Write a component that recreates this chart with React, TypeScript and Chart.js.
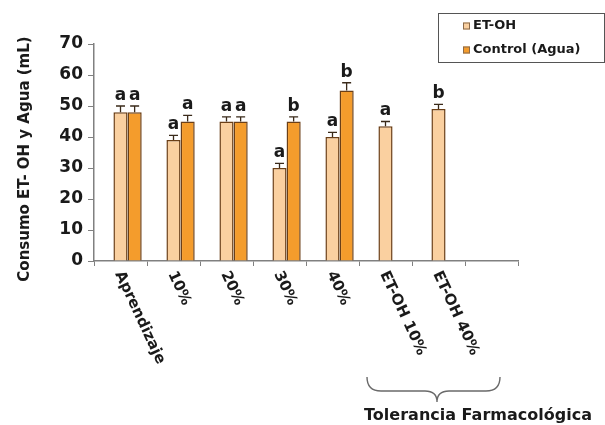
import React, { useEffect, useRef } from "react";
import { Chart, registerables } from "chart.js";

Chart.register(...registerables);

const categories = ["Aprendizaje", "10%", "20%", "30%", "40%", "ET-OH 10%", "ET-OH 40%", ""];
const etohValues = [48, 39, 45, 30, 40, 43.5, 49, null];
const controlValues = [48, 45, 45, 45, 55, null, null, null];
const etohErrors = [2, 1.5, 1.5, 1.5, 1.5, 1.5, 1.5, null];
const controlErrors = [2, 2, 1.5, 1.5, 2.5, null, null, null];
const etohLetters = ["a", "a", "a", "a", "a", "a", "b", null];
const controlLetters = ["a", "a", "a", "b", "b", null, null, null];
const yTicks = [0, 10, 20, 30, 40, 50, 60, 70];
const yTitle = "Consumo ET- OH y Agua (mL)";
const groupLabel = "Tolerancia Farmacológica";

const FONT = "'DejaVu Sans', Verdana, sans-serif";
const LIGHT = "#FAD0A0";
const DARK = "#F49C2C";
const BORDER = "#6b3f17";

const decorPlugin = {
  id: "decor",
  afterDatasetsDraw(chart: any) {
    const ctx = chart.ctx;
    const y = chart.scales.y;
    const sets = [
      { idx: 1, vals: etohValues, errs: etohErrors, letters: etohLetters },
      { idx: 2, vals: controlValues, errs: controlErrors, letters: controlLetters },
    ];
    ctx.save();
    sets.forEach((s) => {
      const meta = chart.getDatasetMeta(s.idx);
      meta.data.forEach((bar: any, i: number) => {
        const v = s.vals[i];
        if (v == null) return;
        const e = s.errs[i] || 0;
        const top = y.getPixelForValue(v);
        const capY = y.getPixelForValue(v + e);
        ctx.strokeStyle = "#3a2a1a";
        ctx.lineWidth = 1.3;
        ctx.beginPath();
        ctx.moveTo(bar.x, top);
        ctx.lineTo(bar.x, capY);
        ctx.moveTo(bar.x - 4.5, capY);
        ctx.lineTo(bar.x + 4.5, capY);
        ctx.stroke();
        const letter = s.letters[i];
        if (letter) {
          ctx.fillStyle = "#1a1a1a";
          ctx.font = `bold 17px ${FONT}`;
          ctx.textAlign = "center";
          ctx.textBaseline = "bottom";
          ctx.fillText(letter, bar.x, capY - 2);
        }
      });
    });
    ctx.restore();
  },
  afterDraw(chart: any) {
    const ctx = chart.ctx;
    const x = chart.scales.x;
    const area = chart.chartArea;
    ctx.save();
    // rotated category labels
    ctx.fillStyle = "#1a1a1a";
    ctx.font = `bold 15px ${FONT}`;
    ctx.textAlign = "left";
    ctx.textBaseline = "middle";
    categories.forEach((c, i) => {
      if (!c) return;
      const px = x.getPixelForValue(i);
      ctx.save();
      ctx.translate(px - 2, area.bottom + 11);
      ctx.rotate((65 * Math.PI) / 180);
      ctx.fillText(c, 0, 0);
      ctx.restore();
    });
    // y title
    ctx.save();
    ctx.translate(25, 159);
    ctx.rotate(-Math.PI / 2);
    ctx.textAlign = "center";
    ctx.textBaseline = "middle";
    ctx.font = `bold 15px ${FONT}`;
    ctx.fillText(yTitle, 0, 0);
    ctx.restore();
    // brace
    const bl = 367, br = 500, bt = 377, tipX = 437, tipY = 402, mid = 391;
    ctx.strokeStyle = "#6a6a6a";
    ctx.lineWidth = 1.4;
    ctx.beginPath();
    ctx.moveTo(bl, bt);
    ctx.quadraticCurveTo(bl, mid, bl + 14, mid);
    ctx.lineTo(tipX - 12, mid);
    ctx.quadraticCurveTo(tipX, mid, tipX, tipY);
    ctx.quadraticCurveTo(tipX, mid, tipX + 12, mid);
    ctx.lineTo(br - 14, mid);
    ctx.quadraticCurveTo(br, mid, br, bt);
    ctx.stroke();
    ctx.fillStyle = "#1a1a1a";
    ctx.font = `bold 16px ${FONT}`;
    ctx.textAlign = "center";
    ctx.textBaseline = "middle";
    ctx.fillText(groupLabel, 478, 416);
    // legend
    ctx.strokeStyle = "#555";
    ctx.lineWidth = 1;
    ctx.strokeRect(438.5, 13.5, 166, 49);
    const items = [
      { ds: chart.data.datasets[1], y: 26 },
      { ds: chart.data.datasets[2], y: 50 },
    ];
    ctx.font = `bold 13px ${FONT}`;
    ctx.textAlign = "left";
    ctx.textBaseline = "middle";
    items.forEach((it) => {
      ctx.fillStyle = it.ds.backgroundColor;
      ctx.fillRect(463, it.y - 3.5, 7, 7);
      ctx.strokeStyle = "#8a6a4a";
      ctx.strokeRect(463.5, it.y - 3, 6, 6);
      ctx.fillStyle = "#1a1a1a";
      ctx.fillText(it.ds.label, 473, it.y);
    });
    ctx.restore();
  },
};

export default function App() {
  const ref = useRef<HTMLCanvasElement | null>(null);
  useEffect(() => {
    document.body.style.margin = "0";
    const chart = new Chart(ref.current as HTMLCanvasElement, {
      type: "bar",
      data: {
        labels: categories,
        datasets: [
          { label: "", data: categories.map(() => null), backgroundColor: "rgba(0,0,0,0)" },
          { label: "ET-OH", data: etohValues, backgroundColor: LIGHT, borderColor: BORDER, borderWidth: 1.5 },
          { label: "Control (Agua)", data: controlValues, backgroundColor: DARK, borderColor: BORDER, borderWidth: 1.5 },
        ],
      },
      options: {
        animation: false,
        responsive: true,
        maintainAspectRatio: false,
        layout: { padding: { top: 44, right: 87, left: 0, bottom: 0 } },
        datasets: { bar: { categoryPercentage: 0.8, barPercentage: 1 } },
        plugins: { legend: { display: false }, tooltip: { enabled: false }, title: { display: false } },
        scales: {
          x: {
            grid: { display: true, drawOnChartArea: false, drawTicks: true, tickLength: 5, color: "#808080", offset: true },
            border: { display: true, color: "#808080", width: 1.5 },
            ticks: { display: false },
            afterFit: (s: any) => { s.height = 164; },
          },
          y: {
            min: 0,
            max: 70,
            afterBuildTicks: (s: any) => { s.ticks = yTicks.map((v) => ({ value: v })); },
            grid: { display: true, drawOnChartArea: false, drawTicks: true, tickLength: 6, color: "#808080" },
            border: { display: true, color: "#808080", width: 1.5 },
            ticks: { color: "#1a1a1a", padding: 5, font: { family: FONT, size: 17, weight: "bold" } },
            afterFit: (s: any) => { s.width = 94; },
          },
        },
      },
      plugins: [decorPlugin],
    } as any);
    return () => chart.destroy();
  }, []);
  return (
    <div style={{ position: "relative", width: 605, height: 425 }}>
      <canvas ref={ref} />
    </div>
  );
}
